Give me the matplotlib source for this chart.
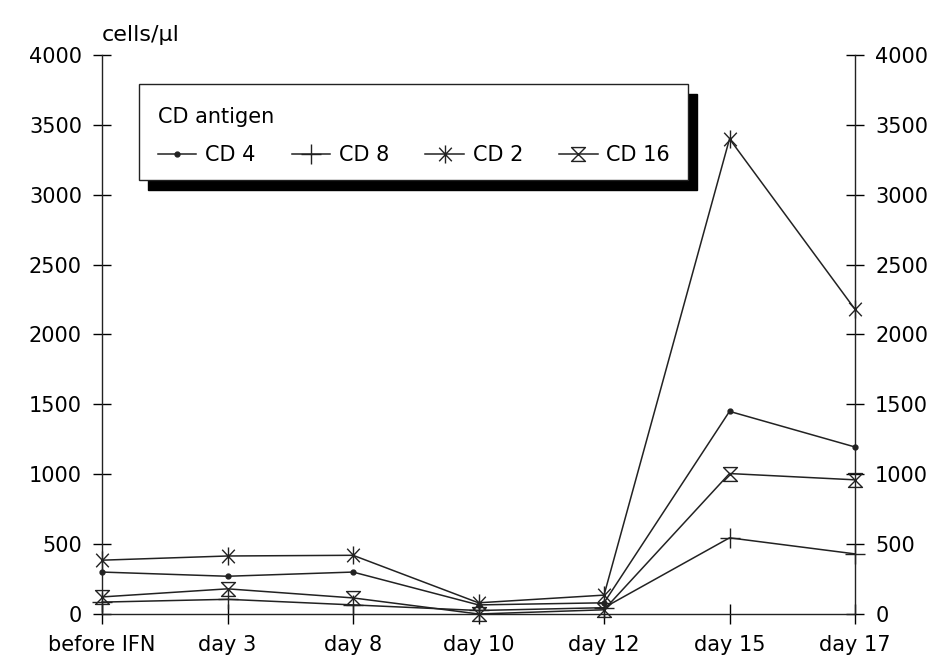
import matplotlib
matplotlib.use('Agg')
import matplotlib.pyplot as plt
from matplotlib.path import Path
from matplotlib.patches import Rectangle

plt.rcParams['font.family'] = ['DejaVu Sans']

# CD-Antigene im Blut (Zellen/µl) im Verlauf der IFN-Therapie
days = ['before IFN', 'day 3', 'day 8', 'day 10', 'day 12', 'day 15', 'day 17']
cd4 = [300, 270, 300, 65, 80, 1450, 1195]
cd8 = [85, 105, 65, 25, 45, 545, 430]
cd2 = [385, 415, 420, 80, 135, 3400, 2180]
cd16 = [122, 180, 115, 0, 30, 1005, 960]
y_ticks = [0, 500, 1000, 1500, 2000, 2500, 3000, 3500, 4000]

# eigene Marker: Sternchen und Sanduhr
asterisk = Path([(0, -1), (0, 1), (-0.7, -0.75), (0.7, 0.75), (-0.7, 0.75), (0.7, -0.75)],
                [Path.MOVETO, Path.LINETO, Path.MOVETO, Path.LINETO, Path.MOVETO, Path.LINETO])
hourglass = Path([(-1, 1), (1, 1), (-1, -1), (1, -1), (-1, 1)],
                 [Path.MOVETO, Path.LINETO, Path.LINETO, Path.LINETO, Path.CLOSEPOLY])

fig = plt.figure(figsize=(9.43, 6.66), dpi=100)
ax = fig.add_axes([0.1082, 0.0781, 0.7985, 0.8393])

x = list(range(len(days)))
col = '#222222'
kw = dict(color=col, lw=1.1, clip_on=False)
ax.plot(x, cd4, marker='o', ms=3.5, mfc=col, mec=col, label='CD 4', **kw)
ax.plot(x, cd8, marker='+', ms=15, mew=1.0, label='CD 8', **kw)
ax.plot(x, cd2, marker=asterisk, ms=13, mew=1.0, mfc='none', mec=col, label='CD 2', **kw)
ax.plot(x, cd16, marker=hourglass, ms=10, mew=1.0, mfc='none', mec=col, label='CD 16', **kw)

ax.set_xlim(0, len(days) - 1)
ax.set_ylim(0, 4000)
ax.set_yticks(y_ticks)
ax.set_xticks(x)
ax.set_xticklabels(days)
ax.spines['top'].set_visible(False)
for s in ['left', 'right', 'bottom']:
    ax.spines[s].set_linewidth(1.0)
    ax.spines[s].set_color(col)
ax.tick_params(axis='y', direction='inout', length=13, width=1.0, labelsize=15,
               left=True, right=True, labelleft=True, labelright=True, pad=8)
ax.tick_params(axis='x', direction='inout', length=14, width=1.0, labelsize=15, pad=8)

fig.text(0.108, 0.947, 'cells/µl', fontsize=16, ha='left', va='center')

# Legendenkasten mit schwarzem Schatten
ax.add_patch(Rectangle((0.061, 0.758), 0.729, 0.172, transform=ax.transAxes,
                       facecolor='black', edgecolor='black', zorder=4, clip_on=False))
ax.add_patch(Rectangle((0.049, 0.776), 0.729, 0.172, transform=ax.transAxes,
                       facecolor='white', edgecolor=col, lw=1.0, zorder=5, clip_on=False))
leg = ax.legend(loc='upper left', bbox_to_anchor=(0.074, 0.907), ncol=4, frameon=False,
                title='CD antigen', title_fontsize=15, fontsize=15, alignment='left',
                handlelength=1.83, handletextpad=0.43, columnspacing=1.75,
                borderpad=0.0, borderaxespad=0.0, labelspacing=0.88)
leg.set_zorder(6)

fig.savefig('out.png', dpi=100, facecolor='white')
